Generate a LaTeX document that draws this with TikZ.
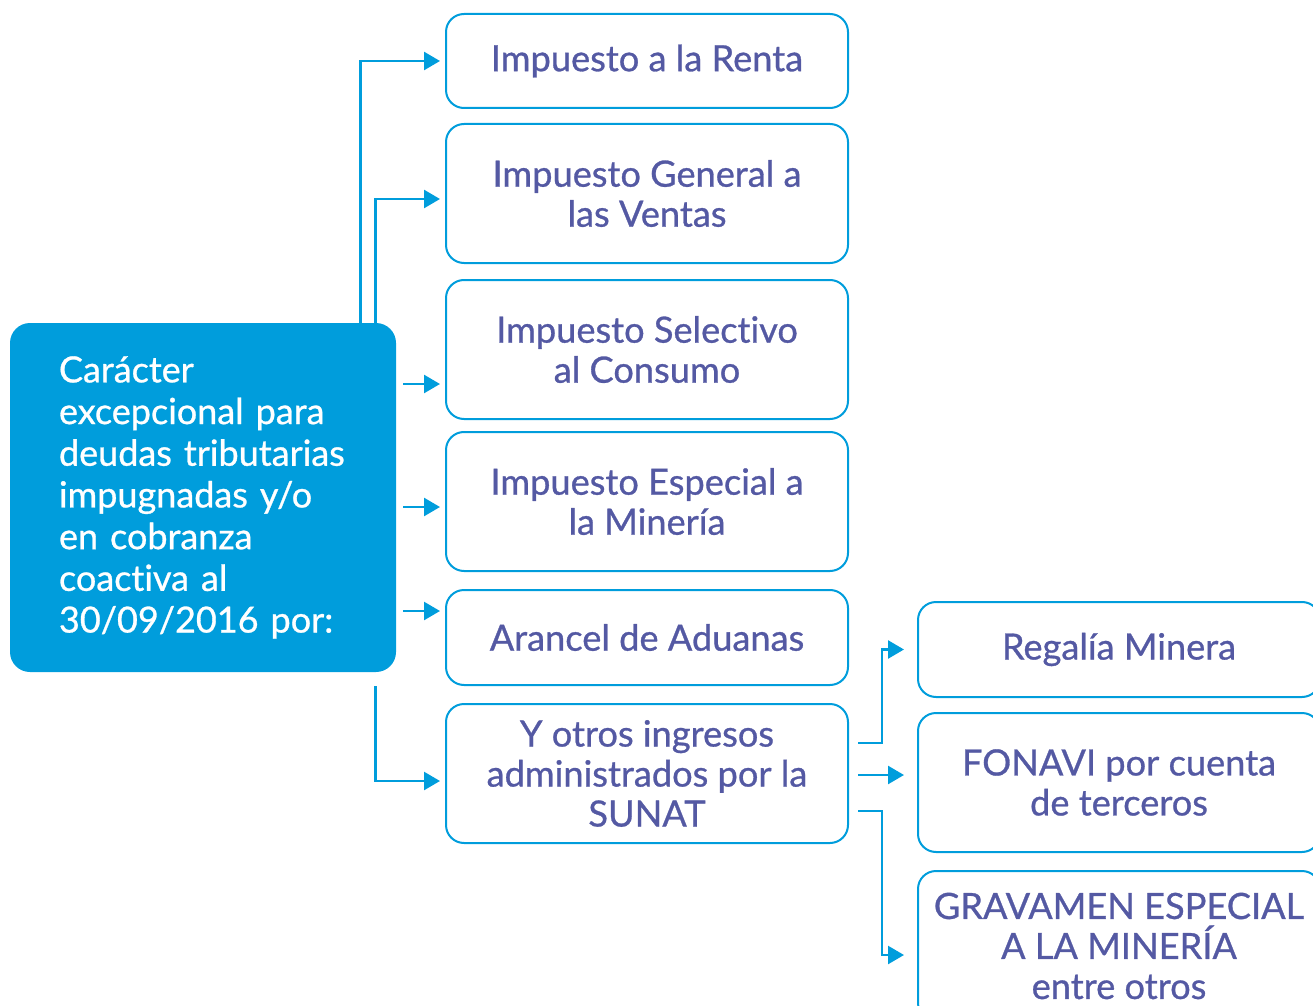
\documentclass[tikz,border=0pt]{standalone}
\usepackage{fontspec}
\setmainfont{Lato}[FakeBold=0.8, Ligatures=NoCommon]
\usetikzlibrary{arrows.meta}
\definecolor{azul}{RGB}{0,157,220}
\definecolor{morado}{RGB}{84,89,163}
\tikzset{
  caja/.style={draw=azul, line width=1pt, rounded corners=9pt, minimum width=201pt,
    text=morado, align=center, inner sep=0pt, font=\fontsize{18.1}{20}\selectfont},
  flecha/.style={draw=azul, line width=1.25pt, -{Triangle[length=8pt,width=9pt]}},
}
\begin{document}
\begin{tikzpicture}[x=0.5pt,y=-0.5pt]
\useasboundingbox (0,0) rectangle (1313,1006);

% bloque principal
\node[fill=azul, rounded corners=10pt, minimum width=193pt, minimum height=174.5pt,
  text width=144pt, inner xsep=24.5pt, align=left, text=white,
  font=\fontsize{18}{20.85}\selectfont] (caracter) at (203,497.5)
  {\mbox{Carácter}\\\mbox{excepcional para}\\\mbox{deudas tributarias}\\\mbox{impugnadas y/o}\\\mbox{en cobranza}\\\mbox{coactiva al}\\\mbox{30/09/2016 por:}};

% tributos
\node[caja, minimum height=47pt] (renta) at (647,61) {Impuesto a la Renta};
\node[caja, minimum height=69.5pt] (igv) at (647,193.5) {Impuesto General a\\las Ventas};
\node[caja, minimum height=69.5pt] (isc) at (647,349.5) {Impuesto Selectivo\\al Consumo};
\node[caja, minimum height=69.5pt] (iem) at (647,501.5) {Impuesto Especial a\\la Minería};
\node[caja, minimum height=47.5pt] (arancel) at (647,637.5) {Arancel de Aduanas};
\node[caja, minimum height=69.5pt] (otros) at (647,773.5) {Y otros ingresos\\administrados por la\\SUNAT};

% otros ingresos
\node[caja, minimum height=47.5pt] (regalia) at (1119,649.5) {Regalía Minera};
\node[caja, minimum height=69.5pt] (fonavi) at (1119,782.5) {FONAVI por cuenta\\de terceros};
\node[caja, minimum height=75pt] (gravamen) at (1119,946) {GRAVAMEN ESPECIAL\\A LA MINERÍA\\entre otros};

% flechas
\coordinate (c3) at (403,384);
\coordinate (c4) at (403,507);
\coordinate (c5) at (403,611);
\coordinate (o1) at (858,743);
\coordinate (o2) at (858,775);
\coordinate (o3) at (858,811);

\draw[flecha, shorten >=2.5pt] ([xshift=-18pt]caracter.north east) |- (renta.west);
\draw[flecha, shorten >=2.5pt] ([xshift=-10.5pt]caracter.north east) |- ([yshift=-2.75pt]igv.west);
\draw[flecha, shorten >=2.5pt] (c3) -- (c3 -| isc.west);
\draw[flecha, shorten >=2.5pt] (c4) -- (c4 -| iem.west);
\draw[flecha, shorten >=2.5pt] (c5) -- (c5 -| arancel.west);
\draw[flecha, shorten >=2.5pt] ([xshift=-10.5pt,yshift=-7pt]caracter.south east) |- ([yshift=-3.75pt]otros.west);

\draw[flecha, shorten >=6.5pt] (o1) -- ++(12pt,0) |- (regalia.west);
\draw[flecha, shorten >=6.5pt] (o2) -- (o2 -| fonavi.west);
\draw[flecha, shorten >=6.5pt] (o3) -- ++(12pt,0) |- ([yshift=-4.5pt]gravamen.west);
\end{tikzpicture}
\end{document}
